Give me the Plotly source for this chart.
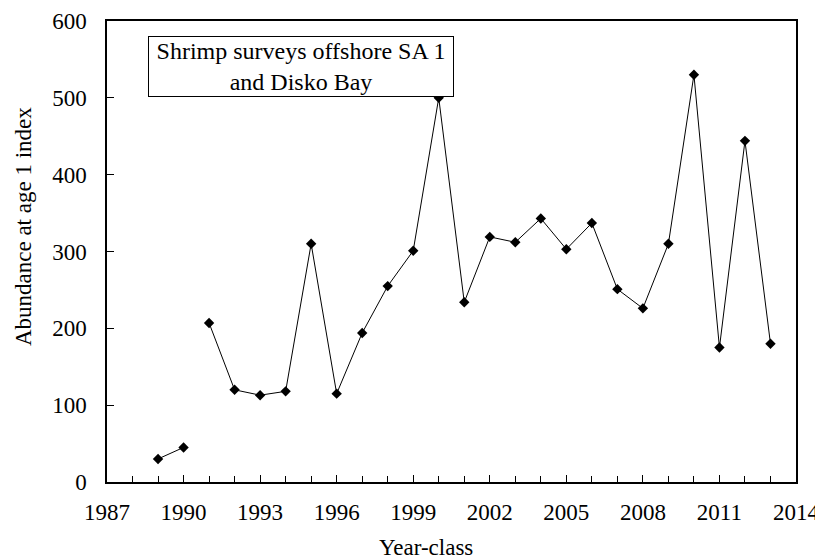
import plotly.graph_objects as go

years_a = [1989, 1990]
values_a = [30, 45]
years_b = [1991, 1992, 1993, 1994, 1995, 1996, 1997, 1998, 1999, 2000, 2001,
           2002, 2003, 2004, 2005, 2006, 2007, 2008, 2009, 2010, 2011, 2012, 2013]
values_b = [207, 120, 113, 118, 310, 115, 194, 255, 301, 500, 234,
            319, 312, 343, 303, 337, 251, 226, 310, 530, 175, 444, 180]
x_ticks = [1987, 1990, 1993, 1996, 1999, 2002, 2005, 2008, 2011, 2014]
y_ticks = [0, 100, 200, 300, 400, 500, 600]

FONT = "Liberation Serif"
fig = go.Figure()
for xs, ys in [(years_a, values_a), (years_b, values_b)]:
    fig.add_trace(go.Scatter(
        x=xs, y=ys, mode="lines+markers",
        line=dict(color="black", width=1),
        marker=dict(symbol="diamond", size=8, color="black"),
        showlegend=False, cliponaxis=False,
    ))

fig.add_annotation(
    x=0.2816, y=0.9675, xref="paper", yref="paper", xanchor="center", yanchor="top",
    text="Shrimp surveys offshore SA 1<br>and Disko Bay",
    showarrow=False, align="center", width=302,
    font=dict(family=FONT, size=24, color="black"),
    bordercolor="black", borderwidth=1, borderpad=1, bgcolor="white",
)
fig.add_annotation(
    x=0.463, y=-0.141, xref="paper", yref="paper", xanchor="center", yanchor="middle",
    text="Year-class", showarrow=False, font=dict(family=FONT, size=23, color="black"),
)
fig.add_annotation(
    x=-0.1219, y=0.553, xref="paper", yref="paper", xanchor="center", yanchor="middle",
    text="Abundance at age 1 index", textangle=-90, showarrow=False,
    font=dict(family=FONT, size=23, color="black"),
)

fig.update_layout(
    width=815, height=552,
    margin=dict(l=99, r=27, t=13, b=78),
    paper_bgcolor="white", plot_bgcolor="white",
    font=dict(family=FONT, size=23, color="black"),
    xaxis=dict(
        range=[1987, 2014], tickvals=x_ticks, ticktext=[str(v) for v in x_ticks],
        ticks="inside", ticklen=7, tickcolor="black", automargin=False,
        ticklabelstandoff=9,
        minor=dict(dtick=1, tick0=1987, ticks="inside", ticklen=6, tickcolor="black"),
        showline=True, linecolor="black", linewidth=1.5, mirror=True,
        showgrid=False, zeroline=False,
    ),
    yaxis=dict(
        range=[0, 600], tickvals=y_ticks, automargin=False,
        ticks="inside", ticklen=7, tickcolor="black", ticklabelstandoff=14,
        showline=True, linecolor="black", linewidth=1.5, mirror=True,
        showgrid=False, zeroline=False,
    ),
)
fig.write_html("out.html")
